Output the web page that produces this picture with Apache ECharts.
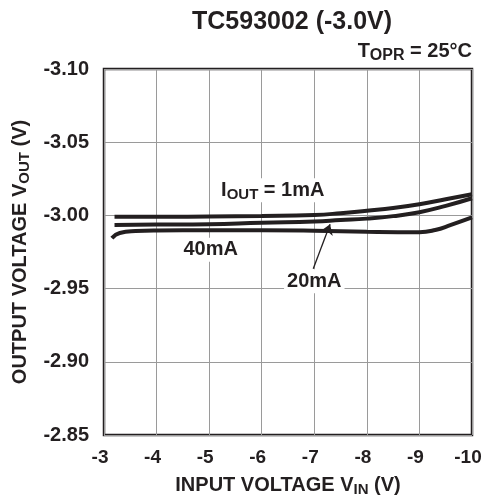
<!DOCTYPE html>
<html><head><meta charset="utf-8">
<script src="https://cdn.jsdelivr.net/npm/echarts@6/dist/echarts.min.js"></script>
<style>html,body{margin:0;padding:0;background:#fff}#c{width:484px;height:499px}</style>
</head><body><div id="c"></div>
<script>
// ---- data ----
const xTickLabels = ['-3','-4','-5','-6','-7','-8','-9','-10'];
const yTickLabels = ['-3.10','-3.05','-3.00','-2.95','-2.90','-2.85'];

const vin1mA  = [-3.2, -4, -5, -6, -7, -7.5, -8, -8.5, -9, -9.5, -10];
const vout1mA = [-2.999, -2.999, -2.9993, -2.9996, -3.0003, -3.0015, -3.0032, -3.005, -3.0076, -3.011, -3.0145];

const vin20mA  = [-3.2, -4, -5, -6, -7, -7.5, -8, -8.5, -9, -9.5, -10];
const vout20mA = [-2.9935, -2.9937, -2.994, -2.995, -2.9958, -2.9968, -2.9978, -2.9995, -3.0022, -3.0065, -3.0117];

const vin40mA  = [-3.15, -3.3, -3.6, -4, -5, -6, -7, -8, -9, -9.3, -9.6, -10];
const vout40mA = [-2.9845, -2.988, -2.9893, -2.9897, -2.9898, -2.9898, -2.9895, -2.9888, -2.9885, -2.990, -2.9935, -2.9986];

const labelIout = [-6.21, -3.0172];
const label40 = [-5.03, -2.9765];
const label20 = [-7.0, -2.955];
const arrowFrom = [-6.98, -2.9635];
const arrowTo = [-7.30, -2.9939];

// ---- chart ----
const FONT = 'Liberation Sans';
const INK = '#231f20';
const zip = (a, b) => a.map((v, i) => [v, b[i]]);
const chart = echarts.init(document.getElementById('c'));
const sub = (fs) => ({fontSize: fs, fontWeight: 'bold', fontFamily: FONT, color: INK, verticalAlign: 'bottom', lineHeight: fs});
const curveStyle = {width: 4, color: INK};

chart.setOption({
  animation: false,
  title: [
    {text: 'TC593002 (-3.0V)', left: 192, top: 10, padding: 0,
     textStyle: {fontFamily: FONT, fontWeight: 'bold', fontSize: 25, color: INK}},
    {text: 'T{s|OPR} = 25°C', right: 12, top: 38, padding: 0,
     textStyle: {fontFamily: FONT, fontWeight: 'bold', fontSize: 20, color: INK, lineHeight: 26,
       rich: {s: sub(16)}}}
  ],
  grid: {left: 104, right: 12, top: 69, bottom: 64, show: true, borderColor: INK, borderWidth: 2.5,
         outerBoundsMode: 'none', containLabel: false},
  xAxis: {
    type: 'value', min: -10, max: -3, interval: 1, inverse: true,
    axisLine: {show: false}, axisTick: {show: false},
    splitLine: {show: true, lineStyle: {color: '#9a9a9a', width: 1}},
    axisLabel: {margin: 13, fontFamily: FONT, fontWeight: 'bold', fontSize: 19, color: INK,
      padding: [0, 8, 0, 0],
      formatter: (v) => xTickLabels[Math.round(-v) - 3]},
    name: 'INPUT VOLTAGE V{s|IN} (V)', nameLocation: 'middle', nameGap: 38,
    nameTextStyle: {fontFamily: FONT, fontWeight: 'bold', fontSize: 20, color: INK, lineHeight: 24, rich: {s: sub(15)}}
  },
  yAxis: {
    type: 'value', min: -3.10, max: -2.85, interval: 0.05, inverse: true,
    axisLine: {show: false}, axisTick: {show: false},
    splitLine: {show: true, lineStyle: {color: '#9a9a9a', width: 1}},
    axisLabel: {margin: 15, fontFamily: FONT, fontWeight: 'bold', fontSize: 20, color: INK,
      formatter: (v) => yTickLabels[Math.round((v + 3.10) / 0.05)]},
    name: 'OUTPUT VOLTAGE V{s|OUT} (V)', nameLocation: 'middle', nameGap: 65, nameRotate: 90,
    nameTextStyle: {fontFamily: FONT, fontWeight: 'bold', fontSize: 20, color: INK, lineHeight: 24, rich: {s: sub(15)}}
  },
  series: [
    {type: 'line', data: zip(vin1mA, vout1mA), smooth: true, symbol: 'none', lineStyle: curveStyle, z: 3},
    {type: 'line', data: zip(vin20mA, vout20mA), smooth: true, symbol: 'none', lineStyle: curveStyle, z: 3},
    {type: 'line', data: zip(vin40mA, vout40mA), smooth: true, symbol: 'none', lineStyle: curveStyle, z: 3,
     markLine: {silent: true, symbol: ['none', 'arrow'], symbolSize: 10,
       lineStyle: {color: INK, width: 1.3, type: 'solid'}, label: {show: false},
       data: [[{coord: arrowFrom}, {coord: arrowTo}]]}},
    {type: 'scatter', symbolSize: 0, silent: true, z: 2, itemStyle: {opacity: 1},
     data: [
       {value: labelIout, label: {formatter: 'I{s|OUT} = 1mA'}},
       {value: label40, label: {formatter: '40mA'}},
       {value: label20, label: {formatter: '20mA'}}
     ],
     label: {show: true, position: 'inside', fontFamily: FONT, fontWeight: 'bold', fontSize: 20, color: INK,
       opacity: 1, lineHeight: 24, backgroundColor: '#fff', padding: [0, 3], rich: {s: sub(15)}}}
  ]
});
</script></body></html>
